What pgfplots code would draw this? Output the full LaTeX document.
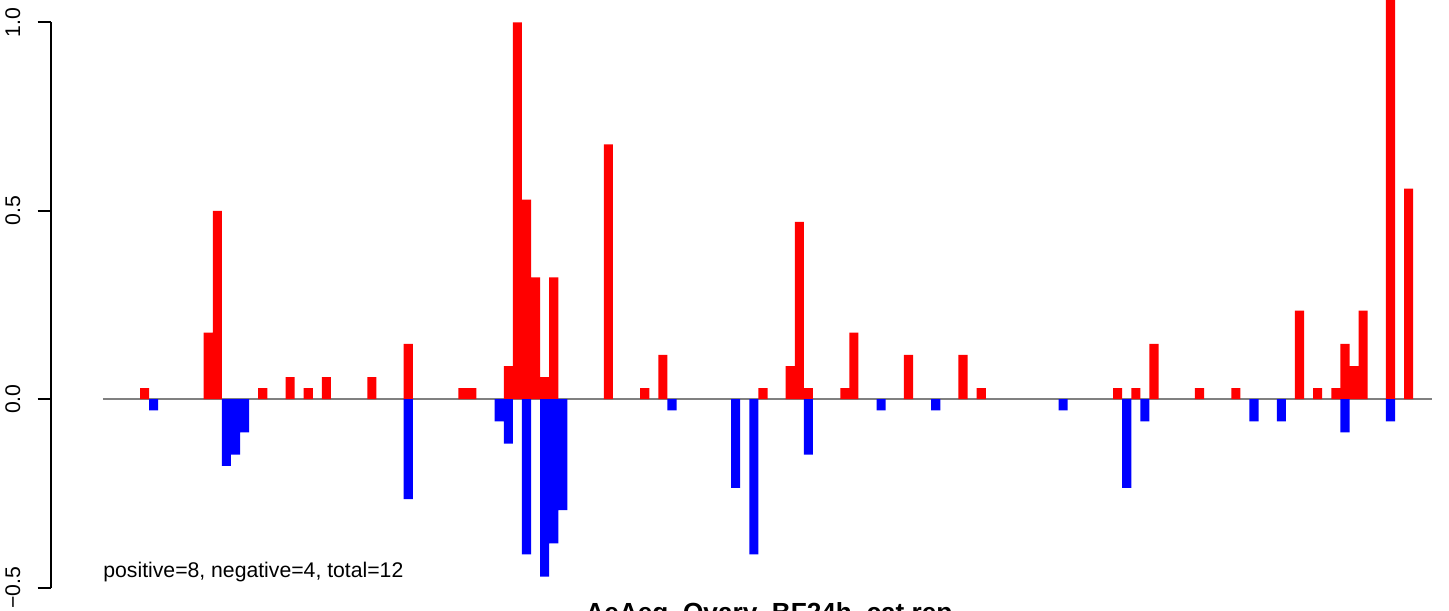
\documentclass[border=0pt]{standalone}
\usepackage{fontspec}
\setmainfont{Liberation Sans}
\usepackage{pgfplots}
\pgfplotsset{compat=1.18}
\definecolor{zerogray}{RGB}{128,128,128}
\begin{document}
\fontsize{10.6bp}{12.7bp}\selectfont
\begin{tikzpicture}
\path[use as bounding box] (0,0) rectangle (724.5bp,305.5bp);
\clip (0,0) rectangle (724.5bp,305.5bp);
\begin{axis}[
  at={(25.35bp,11.65bp)}, anchor=south west,
  scale only axis, width=690.65bp, height=282.68bp,
  xmin=-10.32, xmax=141.57, ymin=-0.5, ymax=1.0,
  enlargelimits=false,
  clip=false,
  axis x line=none, axis y line=left,
  axis line style={-, line width=0.9bp, black},
  ytick={-0.5,0,0.5,1}, xtick=\empty,
  yticklabels={−0.5,0.0,0.5,1.0},
  tick align=outside, major tick length=6.5bp,
  ytick style={black, line width=0.9bp},
  yticklabel style={xshift=-8.5bp, rotate=90, anchor=south, inner sep=0pt, font=\fontsize{10.6bp}{12.7bp}\selectfont},
]
\addplot[color=zerogray, line width=0.8bp] coordinates {(-4.57,0) (141.57,0)};
\addplot[ybar, bar width=1, bar shift=0pt, fill=red, draw=none] coordinates {
(0,0.0294) (7,0.1765) (8,0.5) (13,0.0294) (16,0.0588) (18,0.0294) (20,0.0588) (25,0.0588)
(29,0.1471) (35,0.0294) (36,0.0294) (40,0.0882) (41,1.0) (42,0.5294) (43,0.3235) (44,0.0588)
(45,0.3235) (51,0.6765) (55,0.0294) (57,0.1176) (68,0.0294) (71,0.0882) (72,0.4706) (73,0.0294)
(77,0.0294) (78,0.1765) (84,0.1176) (90,0.1176) (92,0.0294) (107,0.0294) (109,0.0294) (111,0.1471)
(116,0.0294) (120,0.0294) (127,0.2353) (129,0.0294) (131,0.0294) (132,0.1471) (133,0.0882)
(134,0.2353) (137,1.1765) (139,0.5588)
};
\addplot[ybar, bar width=1, bar shift=0pt, fill=blue, draw=none] coordinates {
(1,-0.0294) (9,-0.1765) (10,-0.1471) (11,-0.0882) (29,-0.2647) (39,-0.0588) (40,-0.1176)
(42,-0.4118) (44,-0.4706) (45,-0.3824) (46,-0.2941) (58,-0.0294) (65,-0.2353) (67,-0.4118)
(73,-0.1471) (81,-0.0294) (87,-0.0294) (101,-0.0294) (108,-0.2353) (110,-0.0588) (122,-0.0588)
(125,-0.0588) (132,-0.0882) (137,-0.0588)
};
\end{axis}
\node[anchor=base west, inner sep=0pt] at (51.5bp,17bp) {positive=8, negative=4, total=12};
\node[anchor=base, inner sep=0pt, font=\bfseries\fontsize{13.1bp}{15bp}\selectfont] at (384.5bp,-5.25bp) {AeAeg\_Ovary\_BF24h\_cat.rep};
\end{tikzpicture}
\end{document}
